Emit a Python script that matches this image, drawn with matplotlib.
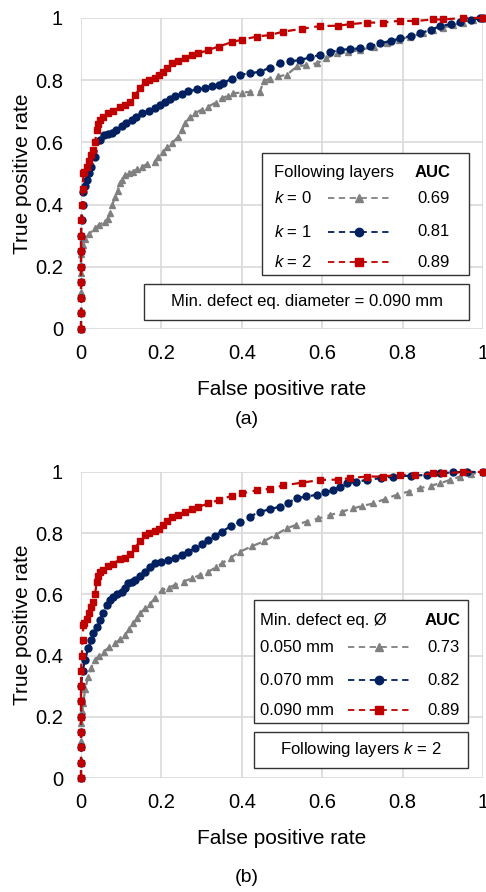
# Importing Libraries
import matplotlib
matplotlib.use("Agg")
import matplotlib.pyplot as plt
from matplotlib.patches import Rectangle

plt.rcParams['font.family'] = ['Liberation Sans', 'DejaVu Sans']
plt.rcParams['mathtext.fontset'] = 'custom'
plt.rcParams['mathtext.it'] = 'Liberation Sans:italic'
plt.rcParams['mathtext.rm'] = 'Liberation Sans'

# Data
# (a) following layers k = 0, 1, 2 (min. defect eq. diameter 0.090 mm)
fpr_k0 = [0, 0, 0, 0, 0, 0.005, 0.01, 0.02, 0.035, 0.045, 0.060, 0.066, 0.072, 0.078, 0.085, 0.091,
          0.097, 0.103, 0.109, 0.120, 0.130, 0.140, 0.151, 0.165, 0.184, 0.192, 0.205, 0.215, 0.226,
          0.242, 0.250, 0.259, 0.270, 0.284, 0.300, 0.317, 0.335, 0.350, 0.365, 0.379, 0.400, 0.420,
          0.445, 0.454, 0.470, 0.490, 0.512, 0.537, 0.560, 0.586, 0.610, 0.636, 0.665, 0.694, 0.730,
          0.760, 0.790, 0.818, 0.850, 0.876, 0.900, 0.926, 0.950, 0.976, 1.0]
tpr_k0 = [0, 0.06, 0.12, 0.18, 0.24, 0.27, 0.29, 0.305, 0.324, 0.335, 0.345, 0.355, 0.372, 0.400, 0.425,
          0.445, 0.468, 0.480, 0.495, 0.500, 0.506, 0.515, 0.522, 0.530, 0.538, 0.554, 0.570, 0.585,
          0.597, 0.618, 0.640, 0.661, 0.680, 0.694, 0.705, 0.715, 0.728, 0.741, 0.750, 0.758, 0.760,
          0.762, 0.763, 0.796, 0.805, 0.812, 0.817, 0.844, 0.848, 0.854, 0.870, 0.886, 0.890, 0.897,
          0.908, 0.918, 0.930, 0.940, 0.950, 0.961, 0.968, 0.977, 0.985, 0.994, 1.0]
fpr_k1 = [0, 0, 0, 0, 0, 0, 0, 0.002, 0.004, 0.006, 0.010, 0.014, 0.020, 0.025, 0.035, 0.047, 0.056,
          0.066, 0.076, 0.088, 0.101, 0.113, 0.126, 0.138, 0.151, 0.168, 0.184, 0.196, 0.209, 0.222,
          0.234, 0.250, 0.267, 0.288, 0.308, 0.325, 0.342, 0.354, 0.375, 0.396, 0.420, 0.445, 0.470,
          0.495, 0.520, 0.545, 0.570, 0.595, 0.620, 0.644, 0.670, 0.694, 0.720, 0.744, 0.770, 0.794,
          0.820, 0.843, 0.870, 0.893, 0.920, 0.943, 0.970, 0.993, 1.0]
tpr_k1 = [0, 0.05, 0.1, 0.15, 0.2, 0.25, 0.3, 0.35, 0.4, 0.44, 0.46, 0.48, 0.50, 0.52, 0.554, 0.608,
          0.624, 0.627, 0.629, 0.640, 0.651, 0.662, 0.672, 0.683, 0.694, 0.700, 0.709, 0.720, 0.731,
          0.740, 0.748, 0.756, 0.764, 0.770, 0.774, 0.780, 0.785, 0.790, 0.805, 0.817, 0.822, 0.827,
          0.840, 0.854, 0.860, 0.865, 0.873, 0.881, 0.890, 0.897, 0.900, 0.902, 0.910, 0.918, 0.926,
          0.934, 0.942, 0.950, 0.962, 0.973, 0.980, 0.988, 0.994, 0.999, 1.0]
fpr_k2 = [0, 0, 0, 0, 0, 0, 0, 0, 0.002, 0.004, 0.006, 0.008, 0.014, 0.020, 0.025, 0.031, 0.035, 0.039,
          0.043, 0.047, 0.055, 0.068, 0.080, 0.097, 0.110, 0.122, 0.134, 0.147, 0.159, 0.170, 0.184,
          0.195, 0.205, 0.215, 0.226, 0.240, 0.259, 0.275, 0.292, 0.317, 0.342, 0.375, 0.400, 0.437,
          0.470, 0.503, 0.550, 0.595, 0.640, 0.670, 0.711, 0.750, 0.794, 0.830, 0.876, 0.900, 0.95, 1.0]
tpr_k2 = [0, 0.05, 0.1, 0.15, 0.2, 0.25, 0.3, 0.35, 0.4, 0.45, 0.5, 0.505, 0.52, 0.54, 0.56, 0.576,
          0.60, 0.64, 0.66, 0.672, 0.680, 0.694, 0.700, 0.715, 0.720, 0.731, 0.752, 0.774, 0.795, 0.800,
          0.806, 0.815, 0.827, 0.840, 0.854, 0.860, 0.870, 0.880, 0.886, 0.897, 0.908, 0.922, 0.930,
          0.940, 0.945, 0.956, 0.965, 0.974, 0.975, 0.980, 0.985, 0.985, 0.991, 0.990, 0.995, 0.995,
          1.0, 1.0]
auc_a = ['0.69', '0.81', '0.89']
labels_a = ['$k$ = 0', '$k$ = 1', '$k$ = 2']

# (b) min. defect eq. diameter 0.050, 0.070, 0.090 mm (k = 2)
fpr_050 = [0, 0, 0, 0, 0.003, 0.006, 0.010, 0.018, 0.025, 0.035, 0.045, 0.056, 0.070, 0.085, 0.097,
           0.109, 0.120, 0.130, 0.140, 0.147, 0.159, 0.172, 0.184, 0.201, 0.218, 0.234, 0.255, 0.275,
           0.296, 0.317, 0.335, 0.350, 0.372, 0.396, 0.425, 0.454, 0.485, 0.512, 0.535, 0.561, 0.590,
           0.619, 0.648, 0.677, 0.700, 0.727, 0.755, 0.785, 0.815, 0.843, 0.870, 0.893, 0.918, 0.943,
           0.970, 1.0]
tpr_050 = [0, 0.06, 0.12, 0.18, 0.22, 0.244, 0.290, 0.331, 0.360, 0.386, 0.400, 0.413, 0.427, 0.440,
           0.453, 0.467, 0.486, 0.505, 0.522, 0.538, 0.554, 0.570, 0.587, 0.614, 0.622, 0.631, 0.642,
           0.652, 0.663, 0.674, 0.688, 0.701, 0.720, 0.740, 0.757, 0.773, 0.795, 0.816, 0.827, 0.838,
           0.848, 0.859, 0.870, 0.881, 0.889, 0.897, 0.911, 0.925, 0.936, 0.947, 0.955, 0.963, 0.974,
           0.985, 0.993, 1.0]
fpr_070 = [0, 0, 0, 0, 0, 0, 0, 0.004, 0.010, 0.018, 0.025, 0.031, 0.040, 0.047, 0.055, 0.064, 0.072,
           0.080, 0.090, 0.101, 0.110, 0.118, 0.126, 0.134, 0.146, 0.159, 0.172, 0.184, 0.200, 0.217,
           0.233, 0.250, 0.267, 0.284, 0.300, 0.317, 0.333, 0.350, 0.372, 0.396, 0.420, 0.445, 0.470,
           0.495, 0.515, 0.537, 0.560, 0.586, 0.608, 0.628, 0.645, 0.661, 0.685, 0.711, 0.745, 0.777,
           0.820, 0.860, 0.893, 0.926, 0.960, 1.0]
tpr_070 = [0, 0.05, 0.1, 0.15, 0.2, 0.25, 0.3, 0.35, 0.386, 0.424, 0.450, 0.473, 0.495, 0.516, 0.540,
           0.565, 0.580, 0.593, 0.601, 0.609, 0.622, 0.636, 0.642, 0.647, 0.660, 0.674, 0.688, 0.701,
           0.707, 0.712, 0.720, 0.729, 0.740, 0.750, 0.764, 0.778, 0.792, 0.805, 0.822, 0.838, 0.854,
           0.870, 0.878, 0.887, 0.900, 0.914, 0.920, 0.925, 0.933, 0.941, 0.952, 0.963, 0.968, 0.974,
           0.980, 0.985, 0.988, 0.990, 0.995, 0.999, 1.0, 1.0]
fpr_090 = fpr_k2
tpr_090 = tpr_k2
auc_b = ['0.73', '0.82', '0.89']
labels_b = ['0.050 mm', '0.070 mm', '0.090 mm']

ticks = [0, 0.2, 0.4, 0.6, 0.8, 1]
tick_labels = ['0', '0.2', '0.4', '0.6', '0.8', '1']

colors = ['#808080', '#002060', '#C00000']
markers = ['^', 'o', 's']
msizes = [5, 5, 5]
dash = (0, (3.5, 2.5))

fig = plt.figure(figsize=(4.86, 8.92), dpi=100)
ax_a = fig.add_axes([0.1667, 0.6312, 0.8272, 0.3487])
ax_b = fig.add_axes([0.1667, 0.1278, 0.8272, 0.3431])


def setup_axes(ax):
    ax.set_xlim(0, 1)
    ax.set_ylim(0, 1)
    ax.set_xticks(ticks)
    ax.set_yticks(ticks)
    ax.set_xticklabels(tick_labels)
    ax.set_yticklabels(tick_labels)
    ax.tick_params(length=0, labelsize=14.5, colors='#000000')
    ax.tick_params(axis='y', pad=13)
    ax.tick_params(axis='x', pad=11)
    for s in ax.spines.values():
        s.set_visible(False)
    ax.grid(True, color='#d9d9d9', linewidth=1.2)
    ax.set_axisbelow(True)
    ax.set_xlabel('False positive rate', fontsize=15, labelpad=12)
    ax.set_ylabel('True positive rate', fontsize=15, labelpad=2)


def draw_table(ax, header, labels, aucs, box, rows_y, head_y, x_text, x_line, x_val):
    ax.add_patch(Rectangle((box[0], box[1]), box[2] - box[0], box[3] - box[1], transform=ax.transAxes,
                           facecolor='white', edgecolor='#333333', linewidth=1.0, zorder=5, clip_on=False))
    ax.text(x_text, head_y, header, transform=ax.transAxes, fontsize=12, va='center', ha='left', zorder=6)
    ax.text(x_val, head_y, 'AUC', transform=ax.transAxes, fontsize=12, va='center', ha='right',
            fontweight='bold', zorder=6)
    for i in range(3):
        y = rows_y[i]
        ax.text(x_text, y, labels[i], transform=ax.transAxes, fontsize=12, va='center', ha='left', zorder=6)
        ax.plot([x_line[0], x_line[1]], [y, y], transform=ax.transAxes, color=colors[i], linestyle=dash,
                linewidth=1.3, zorder=6, clip_on=False)
        ax.plot([(x_line[0] + x_line[1]) / 2], [y], transform=ax.transAxes, color=colors[i],
                marker=markers[i], markersize=6, zorder=7, clip_on=False)
        ax.text(x_val, y, aucs[i], transform=ax.transAxes, fontsize=12, va='center', ha='right', zorder=6)


# Panel (a)
setup_axes(ax_a)
curves_a = [(fpr_k0, tpr_k0), (fpr_k1, tpr_k1), (fpr_k2, tpr_k2)]
for i, (x, y) in enumerate(curves_a):
    ax_a.plot(x, y, color=colors[i], linestyle=dash, linewidth=1.6, marker=markers[i],
              markersize=msizes[i], clip_on=False, zorder=3)
draw_table(ax_a, 'Following layers', labels_a, auc_a, (0.450, 0.174, 0.965, 0.566),
           [0.421, 0.312, 0.215], 0.502, 0.480, (0.614, 0.769), 0.918)
ax_a.add_patch(Rectangle((0.157, 0.029), 0.808, 0.116, transform=ax_a.transAxes, facecolor='white',
                         edgecolor='#333333', linewidth=1.0, zorder=5))
ax_a.text(0.561, 0.087, 'Min. defect eq. diameter = 0.090 mm', transform=ax_a.transAxes, fontsize=12,
          ha='center', va='center', zorder=6)

# Panel (b)
setup_axes(ax_b)
curves_b = [(fpr_050, tpr_050), (fpr_070, tpr_070), (fpr_090, tpr_090)]
for i, (x, y) in enumerate(curves_b):
    ax_b.plot(x, y, color=colors[i], linestyle=dash, linewidth=1.6, marker=markers[i],
              markersize=msizes[i], clip_on=False, zorder=3)
draw_table(ax_b, 'Min. defect eq. Ø', labels_b, auc_b, (0.430, 0.180, 0.963, 0.582),
           [0.428, 0.320, 0.222], 0.516, 0.445, (0.664, 0.818), 0.943)
ax_b.add_patch(Rectangle((0.430, 0.033), 0.533, 0.117, transform=ax_b.transAxes, facecolor='white',
                         edgecolor='#333333', linewidth=1.0, zorder=5))
ax_b.text(0.697, 0.092, 'Following layers $k$ = 2', transform=ax_b.transAxes, fontsize=12,
          ha='center', va='center', zorder=6)

# Sub-figure captions
fig.text(0.508, 1 - 420 / 892, '(a)', fontsize=14, ha='center', va='center')
fig.text(0.508, 1 - 877 / 892, '(b)', fontsize=14, ha='center', va='center')

fig.savefig('out.png', dpi=100)
